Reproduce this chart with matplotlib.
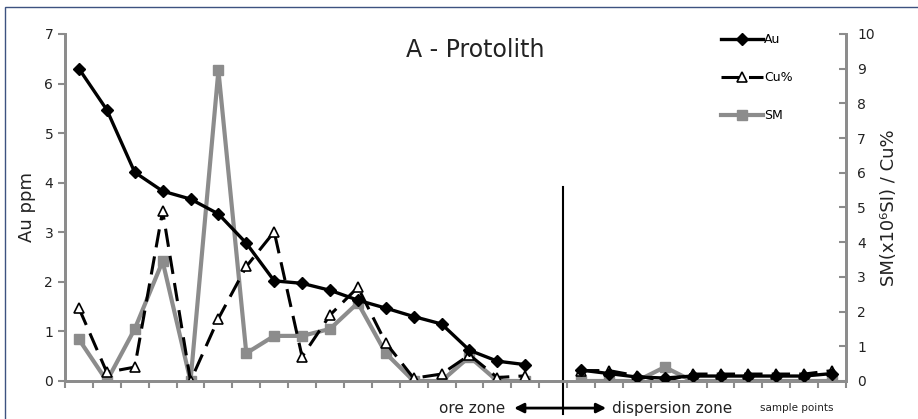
import numpy as np
import matplotlib
matplotlib.use("Agg")
import matplotlib.pyplot as plt
from matplotlib.patches import Rectangle

# sample points 0-16 ore zone, 17 empty, 18-27 dispersion zone
nan = np.nan
au = [6.3, 5.47, 4.21, 3.83, 3.67, 3.37, 2.78, 2.02, 1.97, 1.83, 1.63, 1.47, 1.3, 1.15, 0.62, 0.4, 0.33,
      nan,
      0.22, 0.15, 0.08, 0.06, 0.1, 0.1, 0.1, 0.1, 0.1, 0.15]
cu = [2.1, 0.25, 0.4, 4.9, 0.0, 1.8, 3.3, 4.3, 0.7, 1.9, 2.7, 1.1, 0.08, 0.2, 0.75, 0.1, 0.15,
      nan,
      0.3, 0.3, 0.15, 0.0, 0.2, 0.2, 0.2, 0.2, 0.2, 0.3]
sm = [1.2, 0.0, 1.5, 3.45, 0.0, 8.95, 0.8, 1.3, 1.3, 1.5, 2.25, 0.8, 0.0, 0.0, 0.7, 0.0, 0.0,
      nan,
      0.0, 0.0, 0.0, 0.4, 0.0, 0.0, 0.0, 0.0, 0.0, 0.0]
x = np.arange(len(au))

grey = "#8c8c8c"
txt = "#222222"

fig = plt.figure(figsize=(9.18, 4.19), dpi=100)
ax = fig.add_axes([0.0708, 0.0907, 0.8508, 0.8282])
ax2 = ax.twinx()

l1, = ax.plot(x, au, color="black", lw=2.4, marker="D", ms=6.5, label="Au", zorder=5)
l2, = ax2.plot(x, cu, color="black", lw=2.2, ls=(0, (6, 3)), marker="^", ms=7,
               mfc="white", mec="black", mew=1.2, label="Cu%", zorder=4)
l3, = ax2.plot(x, sm, color=grey, lw=3, marker="s", ms=7, label="SM", zorder=3)

ax.set_xlim(-0.5, len(x) - 0.5)
ax.set_ylim(0, 7)
ax2.set_ylim(0, 10)
ax.set_zorder(ax2.get_zorder() + 1)
ax.patch.set_visible(False)

ax.set_xticks(np.arange(-0.5, len(x), 1.0))
ax.set_xticklabels([])
ax.tick_params(axis="x", direction="out", length=5, width=1.5, color=grey)
ax.tick_params(axis="y", direction="out", length=5, width=1.5, color=grey,
               labelsize=10, labelcolor=txt)
ax2.tick_params(axis="y", direction="in", length=5, width=1.5, color=grey,
                labelsize=10, labelcolor=txt, pad=8)
ax.set_yticks(range(8))
ax2.set_yticks(range(11))

for a in (ax, ax2):
    a.spines["top"].set_visible(False)
    for s in ("left", "right", "bottom"):
        a.spines[s].set_color(grey)
        a.spines[s].set_linewidth(2)

ax.set_ylabel("Au ppm", fontsize=13, color=txt, labelpad=6)
ax2.set_ylabel("SM(x10⁶SI) / Cu%", fontsize=13, color=txt, labelpad=4)
ax.text(0.525, 0.955, "A - Protolith", transform=ax.transAxes, ha="center", va="center",
        fontsize=17, color=txt)

ax.legend(handles=[l1, l2, l3], loc="upper left", bbox_to_anchor=(0.825, 1.035), frameon=False,
          fontsize=9, handlelength=3.4, handletextpad=0.1, labelspacing=2.0)

# zone divider and arrow below the axis
trans = ax.get_xaxis_transform()
ax.plot([17.35, 17.35], [0.559, -0.095], color="black", lw=1.5, transform=trans, clip_on=False)
ax.annotate("", xy=(15.6, -0.078), xytext=(18.9, -0.078), xycoords=trans, textcoords=trans,
            arrowprops=dict(arrowstyle="<|-|>", color="black", lw=2, mutation_scale=14,
                            shrinkA=0, shrinkB=0), annotation_clip=False)
ax.text(15.3, -0.078, "ore zone", transform=trans, ha="right", va="center", fontsize=11, color=txt)
ax.text(19.1, -0.078, "dispersion zone", transform=trans, ha="left", va="center", fontsize=11, color=txt)
ax.text(24.4, -0.078, "sample points", transform=trans, ha="left", va="center", fontsize=7.5, color=txt)

fig.patches.append(Rectangle((5 / 918, -0.1), 1.2, 1.1 - 7 / 419, transform=fig.transFigure,
                             fill=False, ec="#3d5280", lw=1))

fig.savefig("out.png", dpi=100)
